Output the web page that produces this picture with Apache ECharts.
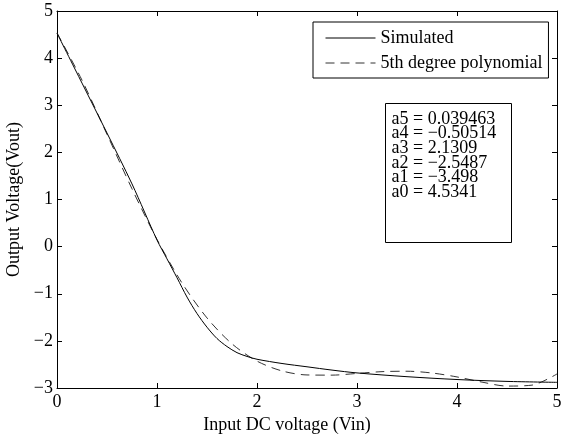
<!DOCTYPE html>
<html>
<head>
<meta charset="utf-8">
<script src="https://cdn.jsdelivr.net/npm/echarts@6/dist/echarts.min.js"></script>
<style>html,body{margin:0;padding:0;background:#fff}#c{width:561px;height:440px}</style>
</head>
<body>
<div id="c"></div>
<script>
var xTicks = [0, 1, 2, 3, 4, 5];
var yTicks = [-3, -2, -1, 0, 1, 2, 3, 4, 5];
var seriesNames = ['Simulated', '5th degree polynomial'];
var simX = [0, 0.25, 0.5, 0.75, 1.0, 1.1, 1.2, 1.3, 1.4, 1.5, 1.6, 1.7, 1.8, 1.9, 2.0, 2.25, 2.5, 2.75, 3.0, 3.5, 4.0, 4.5, 5.0];
var simY = [4.53, 3.47, 2.41, 1.33, 0.14, -0.26, -0.66, -1.07, -1.42, -1.71, -1.95, -2.12, -2.25, -2.33, -2.39, -2.48, -2.55, -2.62, -2.68, -2.76, -2.82, -2.86, -2.88];
var polyX = [0, 0.25, 0.5, 0.75, 1.0, 1.25, 1.5, 1.75, 2.0, 2.25, 2.5, 2.75, 3.0, 3.25, 3.5, 3.75, 4.0, 4.25, 4.5, 4.75, 5.0];
var polyY = [4.534, 3.532, 2.384, 1.226, 0.153, -0.772, -1.513, -2.063, -2.429, -2.638, -2.723, -2.727, -2.691, -2.653, -2.644, -2.682, -2.765, -2.875, -2.959, -2.939, -2.702];
var coefLines = ['a5 = 0.039463', 'a4 = \u22120.50514', 'a3 = 2.1309', 'a2 = \u22122.5487', 'a1 = \u22123.498', 'a0 = 4.5341'];

function pairs(xs, ys) { return xs.map(function (x, i) { return [x, ys[i]]; }); }

var FONT = 'Liberation Serif';
var FS = 18;
var chart = echarts.init(document.getElementById('c'));
var tickCommon = { show: true, inside: true, length: 5, lineStyle: { color: '#000', width: 1 } };
var lineCommon = { show: true, onZero: false, lineStyle: { color: '#000', width: 1 } };
chart.setOption({
  animation: false,
  backgroundColor: '#fff',
  grid: { left: 57, right: 4, top: 11, bottom: 52, containLabel: false, outerBoundsMode: 'none' },
  xAxis: [{
    type: 'value', min: xTicks[0], max: xTicks[xTicks.length - 1], interval: 1,
    position: 'bottom', axisLine: lineCommon, axisTick: tickCommon, splitLine: { show: false },
    axisLabel: { color: '#000', fontFamily: FONT, fontSize: FS, margin: 5, hideOverlap: false },
    name: 'Input DC voltage (Vin)', nameLocation: 'middle', nameGap: 26,
    nameTextStyle: { color: '#000', fontFamily: FONT, fontSize: FS, padding: [0, 40, 0, 0] }
  }, {
    type: 'value', min: xTicks[0], max: xTicks[xTicks.length - 1], interval: 1,
    position: 'top', axisLine: lineCommon, axisTick: tickCommon, splitLine: { show: false },
    axisLabel: { show: false }
  }],
  yAxis: [{
    type: 'value', min: yTicks[0], max: yTicks[yTicks.length - 1], interval: 1,
    position: 'left', axisLine: lineCommon, axisTick: tickCommon, splitLine: { show: false },
    axisLabel: { color: '#000', fontFamily: FONT, fontSize: FS, margin: 4, hideOverlap: false,
      formatter: function (v) { return v < 0 ? '\u2212' + Math.abs(v) : String(v); } },
    name: 'Output Voltage(Vout)', nameLocation: 'middle', nameGap: 30, nameRotate: 90,
    nameTextStyle: { color: '#000', fontFamily: FONT, fontSize: FS }
  }, {
    type: 'value', min: yTicks[0], max: yTicks[yTicks.length - 1], interval: 1,
    position: 'right', axisLine: lineCommon, axisTick: tickCommon, splitLine: { show: false },
    axisLabel: { show: false }
  }],
  legend: {
    show: true, orient: 'vertical', left: 313, top: 22,
    backgroundColor: '#fff', borderColor: '#000', borderWidth: 1,
    padding: [7, 6, 6, 12], itemGap: 7, itemWidth: 50, itemHeight: 14,
    itemStyle: { opacity: 0 },
    lineStyle: { width: 1 },
    textStyle: { color: '#000', fontFamily: FONT, fontSize: FS },
    data: [seriesNames[0], seriesNames[1]]
  },
  graphic: [{
    type: 'group', left: 385, top: 103,
    children: [{
      type: 'rect', shape: { x: 0, y: 0, width: 126, height: 139 },
      style: { fill: '#fff', stroke: '#000', lineWidth: 1 }
    }, {
      type: 'text', x: 6, y: 8,
      style: { text: coefLines.join('\n'), fill: '#000', font: FS + 'px "Liberation Serif"', lineHeight: 14.7 }
    }]
  }],
  series: [{
    name: seriesNames[0], type: 'line', data: pairs(simX, simY), smooth: 0.3,
    symbol: 'none', lineStyle: { color: '#000', width: 1 }, itemStyle: { color: '#000' }, z: 3
  }, {
    name: seriesNames[1], type: 'line', data: pairs(polyX, polyY), smooth: 0.3,
    symbol: 'none', lineStyle: { color: '#333', width: 1, type: [9, 6] }, itemStyle: { color: '#333' }, z: 2
  }]
});
</script>
</body>
</html>
